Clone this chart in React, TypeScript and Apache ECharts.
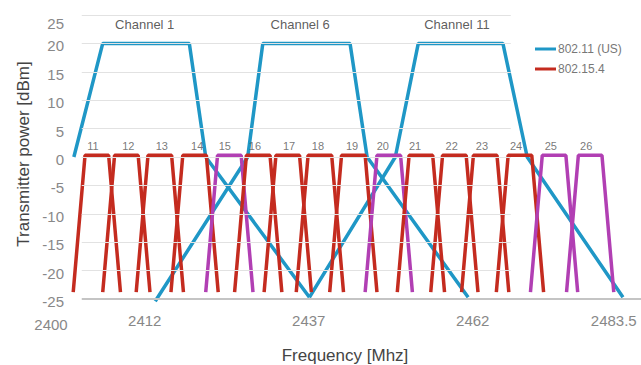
import React, { useEffect, useRef } from 'react';
import * as echarts from 'echarts';

const FONT = '"Liberation Sans", Arial, Helvetica, sans-serif';

// ---- 802.11 (US) channel masks: [frequency MHz, dBm]
const wifiNames = ['Channel 1', 'Channel 6', 'Channel 11'];
const wifiLabelFreq = [2412.0, 2435.7, 2459.6];
const wifiLabelLevel = 23.4;
const wifiCh1 = [[2401.2, 0], [2405.6, 20], [2418.8, 20], [2421.3, 0], [2437.1, -24.7]];
const wifiCh6 = [[2413.6, -25.4], [2427.7, 0], [2430.0, 20], [2443.3, 20], [2445.9, 0], [2461.3, -24.7]];
const wifiCh11 = [[2437.1, -24.7], [2450.2, 0], [2453.7, 20], [2466.6, 20], [2470.3, 0], [2484.9, -24.7]];
const wifiMasks = [wifiCh1, wifiCh6, wifiCh11];

// ---- 802.15.4 channels: corner frequencies [bottom-left, top-left, top-right, bottom-right]
const zbChannels = [11, 12, 13, 14, 15, 16, 17, 18, 19, 20, 21, 22, 23, 24, 25, 26];
const zbEdges = [
  [2401.1, 2402.9, 2406.5, 2408.3],
  [2405.6, 2407.4, 2411.0, 2412.8],
  [2410.7, 2412.5, 2416.1, 2417.9],
  [2416.0, 2417.8, 2421.4, 2423.2],
  [2421.3, 2423.1, 2426.7, 2428.5],
  [2425.7, 2427.5, 2431.1, 2432.9],
  [2430.2, 2432.0, 2435.6, 2437.4],
  [2435.1, 2436.9, 2440.5, 2442.3],
  [2440.2, 2442.0, 2445.6, 2447.4],
  [2445.6, 2447.4, 2451.0, 2452.8],
  [2450.5, 2452.3, 2455.9, 2457.7],
  [2455.6, 2457.4, 2461.0, 2462.8],
  [2460.3, 2462.1, 2465.7, 2467.5],
  [2465.6, 2467.4, 2471.0, 2472.8],
  [2470.8, 2472.6, 2476.2, 2478.0],
  [2476.3, 2478.1, 2481.7, 2483.5],
];
const zbTop = 0.3;
const zbBottom = -23.8;
const zbFree = [15, 20, 25, 26];
const zbLabelFreq = [2404.1, 2409.5, 2414.6, 2420.0, 2424.2, 2428.8, 2434.0, 2438.4, 2443.6, 2448.3, 2453.2, 2458.8, 2463.4, 2468.6, 2473.9, 2479.3];
const zbLabelLevel = 2.0;

// ---- axes
const xTicks = [2400, 2412, 2437, 2462, 2483.5];
const yLevels = [25, 20, 15, 10, 5, 0, -5, -10, -15, -20, -25];
const gridFrom = 2402.4;
const gridTo = 2467.8;
const xMin = 2400;
const xMax = 2487.65;

const BLUE = '#1f97c6';
const RED = '#c42b1f';
const MAGENTA = '#b13fb3';

export default function App() {
  const ref = useRef<HTMLDivElement>(null);
  useEffect(() => {
    if (!ref.current) return;
    const chart = echarts.init(ref.current, undefined, { renderer: 'svg' });

    const series: any[] = [];

    // grid lines
    series.push({
      type: 'line',
      name: 'grid',
      data: [],
      silent: true,
      markLine: {
        silent: true,
        symbol: ['none', 'none'],
        label: { show: false },
        animation: false,
        data: yLevels.map((v) => [
          { coord: [gridFrom, v], lineStyle: { color: v === -25 ? '#c4c4c4' : '#e2e2e2', width: v === -25 ? 2 : 1, type: 'solid' } },
          { coord: [v === -25 ? xMax : gridTo, v] },
        ]),
      },
    });

    wifiMasks.forEach((m) => {
      series.push({
        type: 'line',
        name: '802.11 (US)',
        data: m,
        symbol: 'none',
        showSymbol: false,
        clip: false,
        color: BLUE,
        lineStyle: { color: BLUE, width: 3.5 },
        z: 2,
      });
    });

    zbChannels.forEach((ch, i) => {
      const e = zbEdges[i];
      const col = zbFree.includes(ch) ? MAGENTA : RED;
      series.push({
        type: 'line',
        name: '802.15.4',
        data: [[e[0], zbBottom], [e[1], zbTop], [e[2], zbTop], [e[3], zbBottom]],
        symbol: 'none',
        showSymbol: false,
        clip: false,
        color: col,
        lineStyle: { color: col, width: 3.5 },
        z: 3,
      });
    });

    series.push({
      type: 'scatter',
      name: 'zbLabels',
      symbolSize: 0,
      silent: true,
      data: zbChannels.map((ch, i) => ({ value: [zbLabelFreq[i], zbLabelLevel], name: String(ch) })),
      label: { show: true, position: 'inside', formatter: '{b}', color: '#555', fontSize: 11, fontFamily: FONT },
      z: 4,
    });

    series.push({
      type: 'scatter',
      name: 'wifiLabels',
      symbolSize: 0,
      silent: true,
      data: wifiNames.map((n, i) => ({ value: [wifiLabelFreq[i], wifiLabelLevel], name: n })),
      label: { show: true, position: 'inside', formatter: '{b}', color: '#333', fontSize: 13, fontFamily: FONT },
      z: 4,
    });

    chart.setOption({
      animation: false,
      backgroundColor: '#ffffff',
      grid: { left: 66, right: 0, top: 15, bottom: 66 },
      legend: {
        data: ['802.11 (US)', '802.15.4'],
        orient: 'vertical',
        left: 530,
        top: 38,
        icon: 'rect',
        itemWidth: 21,
        itemHeight: 3,
        itemGap: 8,
        textStyle: { color: '#777', fontSize: 12, fontFamily: FONT, padding: [0, 0, 0, -3] },
        selectedMode: false,
      },
      xAxis: {
        type: 'value',
        min: xMin,
        max: xMax,
        axisLine: { show: false },
        axisTick: { show: false },
        splitLine: { show: false },
        axisLabel: {
          customValues: xTicks,
          margin: 14,
          fontSize: 15,
          color: '#888',
          fontFamily: FONT,
          formatter: (v: number) => (v === 2400 ? '{s|2400}' : String(v)),
          rich: { s: { padding: [4, 30, 0, 0], fontSize: 15, color: '#888', fontFamily: FONT } },
        },
      },
      yAxis: {
        type: 'value',
        min: -25,
        max: 25,
        interval: 5,
        axisLine: { show: false },
        axisTick: { show: false },
        splitLine: { show: false },
        axisLabel: {
          margin: 2,
          fontSize: 15,
          color: '#888',
          fontFamily: FONT,
          padding: [5, 0, 0, 0],
          formatter: (v: number) => (v === 25 ? '{t|25}' : String(v)),
          rich: { t: { padding: [12, 0, 0, 0], fontSize: 15, color: '#888', fontFamily: FONT } },
        },
      },
      graphic: [
        {
          type: 'text',
          x: 23,
          y: 154,
          rotation: Math.PI / 2,
          style: { text: 'Transmitter power [dBm]', fill: '#444', fontSize: 17, fontFamily: FONT, textAlign: 'center', textVerticalAlign: 'middle' },
        },
        {
          type: 'text',
          x: 345,
          y: 355,
          style: { text: 'Frequency [Mhz]', fill: '#444', fontSize: 17, fontFamily: FONT, textAlign: 'center', textVerticalAlign: 'middle' },
        },
      ],
      series,
    });

    return () => chart.dispose();
  }, []);

  return <div ref={ref} style={{ position: 'fixed', left: 0, top: 0, width: 641, height: 365 }} />;
}
